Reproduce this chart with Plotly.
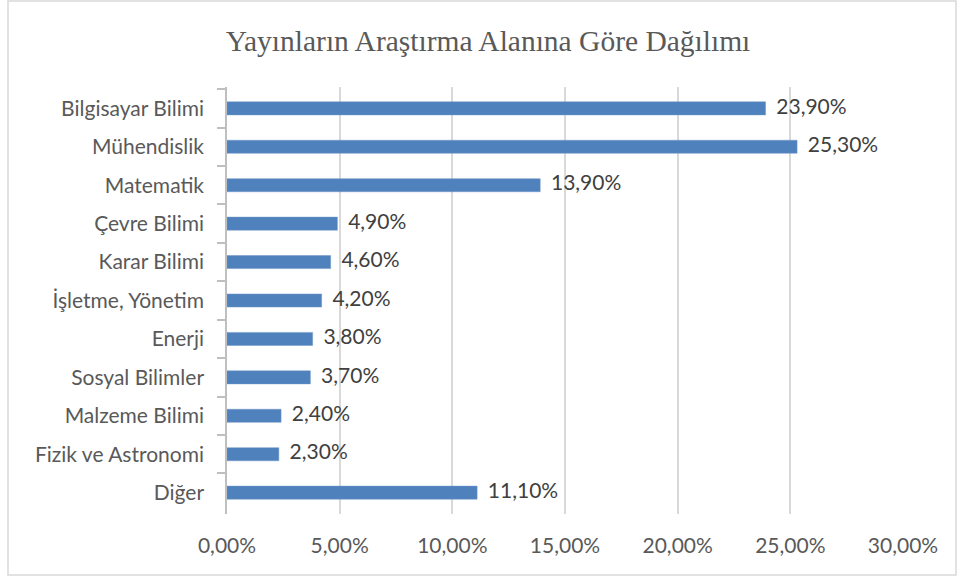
import plotly.graph_objects as go

categories = ["Bilgisayar Bilimi", "Mühendislik", "Matematik", "Çevre Bilimi", "Karar Bilimi",
              "İşletme, Yönetim", "Enerji", "Sosyal Bilimler", "Malzeme Bilimi",
              "Fizik ve Astronomi", "Diğer"]
values = [23.9, 25.3, 13.9, 4.9, 4.6, 4.2, 3.8, 3.7, 2.4, 2.3, 11.1]
x_ticks = [0, 5, 10, 15, 20, 25, 30]
x_tick_labels = ["0,00%", "5,00%", "10,00%", "15,00%", "20,00%", "25,00%", "30,00%"]
title = "Yayınların Araştırma Alanına Göre Dağılımı"

labels = ["\u00a0\u00a0" + f"{v:.2f}".replace(".", ",") + "%" for v in values]

W, H = 959, 577
L, R, T, B = 227, 903, 87, 514
pw, ph = R - L, B - T

font_fam = "Lato"
fs = 21
txt_col = "#595959"

fig = go.Figure()
fig.add_trace(go.Bar(
    y=categories, x=values, orientation="h",
    marker=dict(color="#4f81bd", line=dict(color="#6f97c9", width=0.5)),
    width=0.34, hoverinfo="skip",
))
fig.add_trace(go.Scatter(
    y=categories, x=values, mode="text", text=labels, textposition="middle right",
    textfont=dict(family=font_fam, size=fs, color="#404040"),
    cliponaxis=False, hoverinfo="skip",
))

fig.update_layout(
    width=W, height=H,
    margin=dict(l=L, r=W - R, t=T, b=H - B),
    paper_bgcolor="white", plot_bgcolor="white",
    showlegend=False,
    title=dict(text=title, x=488 / W, xanchor="center", y=1 - 41 / H, yanchor="middle",
               font=dict(family="Liberation Serif", size=29.5, color=txt_col)),
    xaxis=dict(range=[0, 30], tickvals=x_ticks, ticktext=x_tick_labels,
               showgrid=True, gridcolor="#d9d9d9", gridwidth=1.5, zeroline=False,
               showline=False, ticks="", ticklabelstandoff=17, automargin=False,
               tickfont=dict(family=font_fam, size=fs, color=txt_col)),
    yaxis=dict(categoryorder="array", categoryarray=categories, autorange="reversed",
               showline=True, linecolor="#bfbfbf", linewidth=1.5,
               ticks="outside", tickson="boundaries", ticklen=8, tickcolor="#bfbfbf", tickwidth=1.5,
               ticklabelstandoff=17, showgrid=False, automargin=False,
               tickfont=dict(family=font_fam, size=fs, color=txt_col)),
    shapes=[dict(type="rect", xref="paper", yref="paper",
                 x0=(8 - L) / pw, x1=(956 - L) / pw,
                 y0=(B - 575) / ph, y1=(B - 1) / ph,
                 line=dict(color="#d9d9d9", width=1.5))],
)

fig.write_html("out.html", config={"displayModeBar": False},
               post_script="document.body.style.margin='0';")
